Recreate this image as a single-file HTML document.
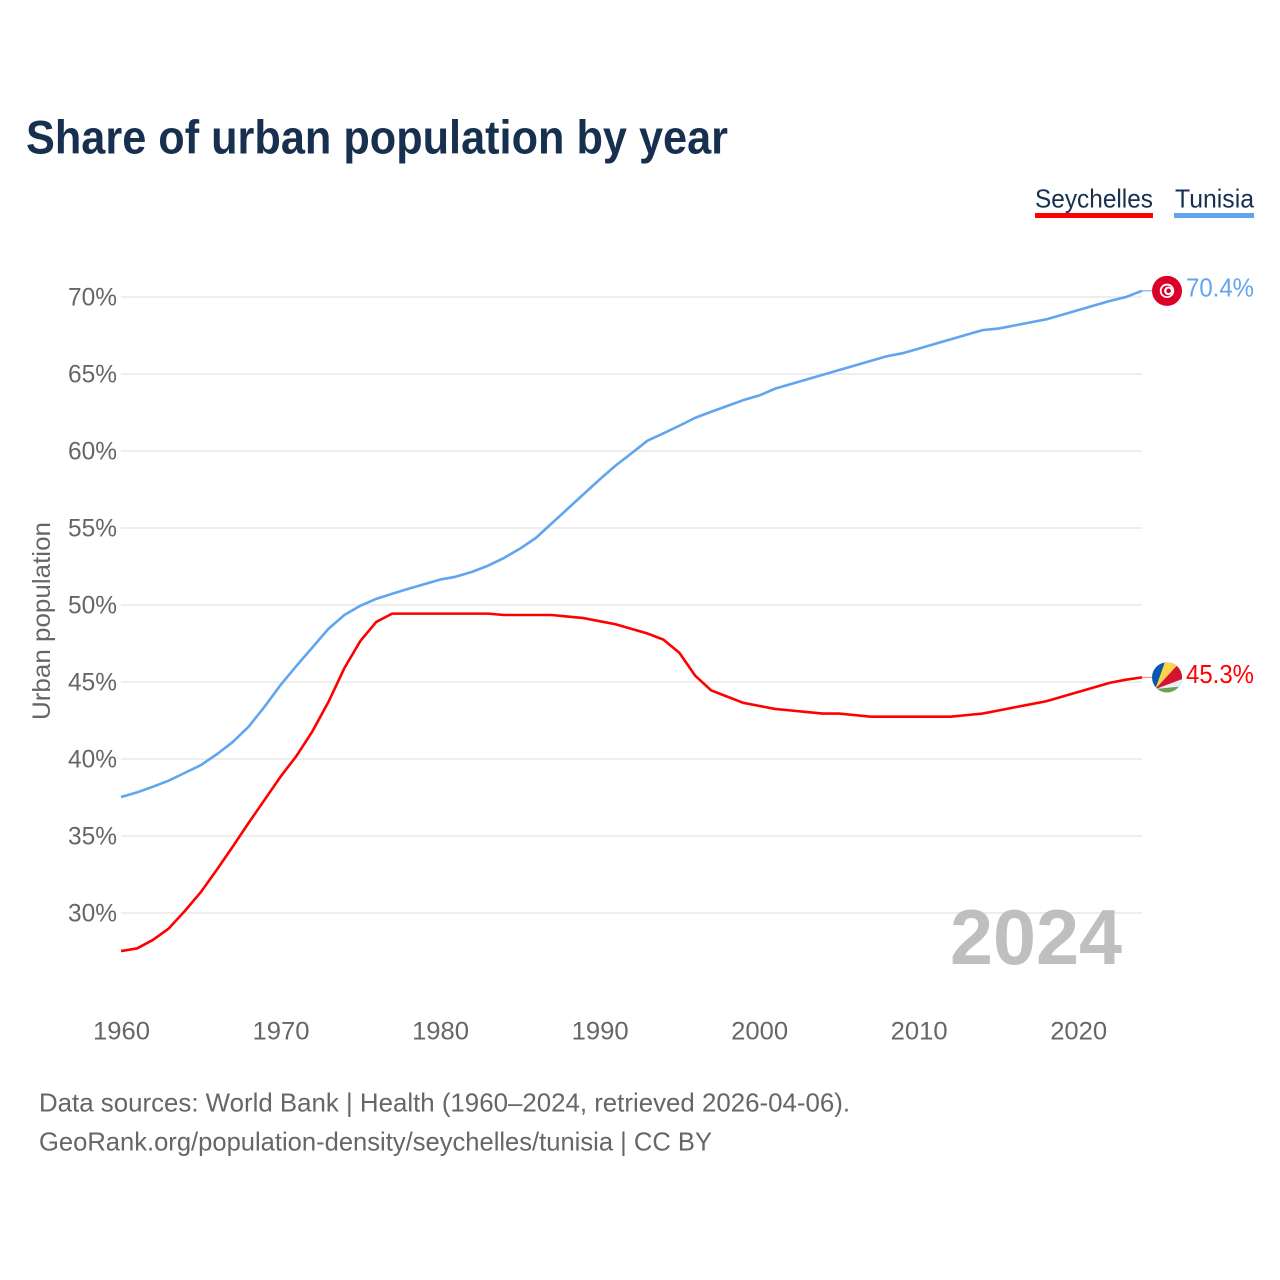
<!DOCTYPE html>
<html lang="en">
<head>
<meta charset="utf-8">
<title>Share of urban population by year</title>
<style>
html,body{margin:0;padding:0;background:#fff;}
svg{display:block;font-family:"Liberation Sans",sans-serif;}
</style>
</head>
<body>
<svg id="chart" xmlns="http://www.w3.org/2000/svg" width="1280" height="1280" viewBox="0 0 1280 1280">
  <rect x="0" y="0" width="1280" height="1280" fill="#ffffff"/>
  <text x="26" y="153.5" font-size="47" font-weight="700" fill="#17304f" textLength="702" lengthAdjust="spacingAndGlyphs">Share of urban population by year</text>

  <g>
    <text x="1035" y="207.5" font-size="26" fill="#17304f" textLength="118" lengthAdjust="spacingAndGlyphs">Seychelles</text>
    <rect x="1035" y="213" width="118" height="5" fill="#ff0000"/>
  </g>
  <g>
    <text x="1175" y="207.5" font-size="26" fill="#17304f" textLength="79" lengthAdjust="spacingAndGlyphs">Tunisia</text>
    <rect x="1174" y="213" width="80" height="5" fill="#60a5ee"/>
  </g>

  <g id="grid"></g>
  <g id="yticks"></g>
  <g id="xticks"></g>

  <text transform="translate(50,621) rotate(-90)" text-anchor="middle" font-size="25" fill="#666666" textLength="198" lengthAdjust="spacingAndGlyphs">Urban population</text>

  <text x="950" y="964" font-size="78" font-weight="700" fill="#bfbfbf" textLength="172" lengthAdjust="spacingAndGlyphs">2024</text>

  <g id="series"></g>
  <g id="ends"></g>

  <text x="39" y="1111.5" font-size="26" fill="#666666" textLength="811" lengthAdjust="spacingAndGlyphs">Data sources: World Bank | Health (1960–2024, retrieved 2026-04-06).</text>
  <text x="39" y="1150.5" font-size="26" fill="#666666" textLength="673" lengthAdjust="spacingAndGlyphs">GeoRank.org/population-density/seychelles/tunisia | CC BY</text>
</svg>
<script>
const startYear = 1960;
const yTickValues = [30, 35, 40, 45, 50, 55, 60, 65, 70];
const xTickYears = [1960, 1970, 1980, 1990, 2000, 2010, 2020];
const seychellesValues = [
  27.53, 27.7, 28.25, 29.0, 30.13, 31.35, 32.8, 34.3, 35.85, 37.35,
  38.85, 40.2, 41.8, 43.7, 45.9, 47.66, 48.9, 49.44, 49.44, 49.44,
  49.44, 49.44, 49.44, 49.44, 49.35, 49.35, 49.35, 49.35, 49.25, 49.15,
  48.95, 48.75, 48.45, 48.15, 47.75, 46.9, 45.4, 44.45, 44.05, 43.65,
  43.45, 43.25, 43.15, 43.05, 42.95, 42.95, 42.85, 42.75, 42.75, 42.75,
  42.75, 42.75, 42.75, 42.85, 42.95, 43.15, 43.35, 43.55, 43.75, 44.05,
  44.35, 44.65, 44.95, 45.15, 45.3
];
const tunisiaValues = [
  37.53, 37.83, 38.2, 38.6, 39.1, 39.6, 40.3, 41.1, 42.1, 43.4,
  44.8, 46.05, 47.25, 48.45, 49.35, 49.95, 50.4, 50.73, 51.05, 51.35,
  51.65, 51.84, 52.15, 52.55, 53.05, 53.65, 54.35, 55.3, 56.25, 57.2,
  58.15, 59.05, 59.85, 60.67, 61.15, 61.64, 62.16, 62.55, 62.92, 63.3,
  63.6, 64.05, 64.35, 64.65, 64.95, 65.25, 65.55, 65.85, 66.15, 66.35,
  66.65, 66.95, 67.25, 67.55, 67.85, 67.95, 68.15, 68.35, 68.55, 68.85,
  69.15, 69.45, 69.75, 70.0, 70.4
];

const NS = 'http://www.w3.org/2000/svg';
const plotLeft = 121;
const plotRight = 1142;
function xScale(year) { return plotLeft + (year - startYear) * (plotRight - plotLeft) / 64; }
function yScale(value) { return 913 - (value - 30) * 15.4; }
function make(parent, tag) {
  const el = document.createElementNS(NS, tag);
  parent.appendChild(el);
  return el;
}
function pathFor(values) {
  return values.map(function (v, i) {
    return (i ? 'L' : 'M') + xScale(startYear + i).toFixed(2) + ' ' + yScale(v).toFixed(2);
  }).join(' ');
}

const grid = document.getElementById('grid');
const yticks = document.getElementById('yticks');
yTickValues.forEach(function (v) {
  const line = make(grid, 'line');
  
  
  line.setAttribute('x1', plotLeft);
  line.setAttribute('x2', plotRight);
  line.setAttribute('y1', yScale(v));
  line.setAttribute('y2', yScale(v));
  line.setAttribute('stroke', '#eeeeee');
  line.setAttribute('stroke-width', '2');
  const label = make(yticks, 'text');
  
  
  label.setAttribute('x', '117');
  label.setAttribute('y', yScale(v) + 8.7);
  label.setAttribute('text-anchor', 'end');
  label.setAttribute('font-size', '25');
  label.setAttribute('fill', '#666666');
  label.setAttribute('textLength', '49');
  label.setAttribute('lengthAdjust', 'spacingAndGlyphs');
  label.textContent = v + '%';
});

const xticks = document.getElementById('xticks');
xTickYears.forEach(function (yr) {
  const label = make(xticks, 'text');
  
  
  label.setAttribute('x', xScale(yr) + 0.5);
  label.setAttribute('y', '1039.5');
  label.setAttribute('text-anchor', 'middle');
  label.setAttribute('font-size', '25');
  label.setAttribute('fill', '#666666');
  label.setAttribute('textLength', '57');
  label.setAttribute('lengthAdjust', 'spacingAndGlyphs');
  label.textContent = String(yr);
});

const seriesGroup = document.getElementById('series');
const ends = document.getElementById('ends');

const seychellesLine = make(seriesGroup, 'path');


seychellesLine.setAttribute('d', pathFor(seychellesValues));
seychellesLine.setAttribute('fill', 'none');
seychellesLine.setAttribute('stroke', '#ff0000');
seychellesLine.setAttribute('stroke-width', '2.6');
seychellesLine.setAttribute('stroke-linejoin', 'round');

const tunisiaLine = make(seriesGroup, 'path');


tunisiaLine.setAttribute('d', pathFor(tunisiaValues));
tunisiaLine.setAttribute('fill', 'none');
tunisiaLine.setAttribute('stroke', '#60a5ee');
tunisiaLine.setAttribute('stroke-width', '2.6');
tunisiaLine.setAttribute('stroke-linejoin', 'round');

const lastSeychelles = seychellesValues[seychellesValues.length - 1];
const lastTunisia = tunisiaValues[tunisiaValues.length - 1];
const flagX = 1167;

const seychellesLeader = make(ends, 'line');


seychellesLeader.setAttribute('x1', plotRight);
seychellesLeader.setAttribute('x2', flagX - 14);
seychellesLeader.setAttribute('y1', yScale(lastSeychelles));
seychellesLeader.setAttribute('y2', yScale(lastSeychelles));
seychellesLeader.setAttribute('stroke', '#ff7a7a');
seychellesLeader.setAttribute('stroke-width', '1');

const tunisiaLeader = make(ends, 'line');


tunisiaLeader.setAttribute('x1', plotRight);
tunisiaLeader.setAttribute('x2', flagX - 14);
tunisiaLeader.setAttribute('y1', yScale(lastTunisia));
tunisiaLeader.setAttribute('y2', yScale(lastTunisia));
tunisiaLeader.setAttribute('stroke', '#60a5ee');
tunisiaLeader.setAttribute('stroke-width', '1');

/* Tunisia flag */
const tnFlag = make(ends, 'g');


tnFlag.setAttribute('transform', 'translate(' + flagX + ',' + yScale(lastTunisia) + ')');
tnFlag.innerHTML = '<circle r="15" fill="#dc0028"/><circle r="7.2" fill="#ffffff"/><circle r="5.4" fill="#dc0028"/><circle cx="1.4" r="4.3" fill="#ffffff"/><circle cx="1.6" r="2.3" fill="#dc0028"/>';

/* Seychelles flag */
const scFlag = make(ends, 'g');


scFlag.setAttribute('transform', 'translate(' + flagX + ',' + yScale(lastSeychelles) + ')');
scFlag.innerHTML = '<defs><clipPath id="sc-clip"><circle r="15"/></clipPath></defs><g clip-path="url(#sc-clip)"><rect x="-16" y="-16" width="32" height="32" fill="#0a57b0"/><path d="M-11.7 11.7 L0.5 -22.6 L16.5 -18.7 Z" fill="#fcd34a"/><path d="M-11.7 11.7 L16.5 -18.7 L23 -1.3 Z" fill="#d8112f"/><path d="M-11.7 11.7 L23 -1.3 L20.8 8.6 Z" fill="#eeeeee"/><path d="M-11.7 11.7 L20.8 8.6 L20 30 L-12 30 Z" fill="#6fa252"/></g>';

const tnLabel = make(ends, 'text');


tnLabel.setAttribute('x', '1186');
tnLabel.setAttribute('y', yScale(lastTunisia) + 5.8);
tnLabel.setAttribute('font-size', '26');
tnLabel.setAttribute('fill', '#60a5ee');
tnLabel.setAttribute('textLength', '68');
tnLabel.setAttribute('lengthAdjust', 'spacingAndGlyphs');
tnLabel.textContent = lastTunisia.toFixed(1) + '%';

const scLabel = make(ends, 'text');


scLabel.setAttribute('x', '1186');
scLabel.setAttribute('y', yScale(lastSeychelles) + 5.8);
scLabel.setAttribute('font-size', '26');
scLabel.setAttribute('fill', '#ff0000');
scLabel.setAttribute('textLength', '68');
scLabel.setAttribute('lengthAdjust', 'spacingAndGlyphs');
scLabel.textContent = lastSeychelles.toFixed(1) + '%';
</script>
</body>
</html>
